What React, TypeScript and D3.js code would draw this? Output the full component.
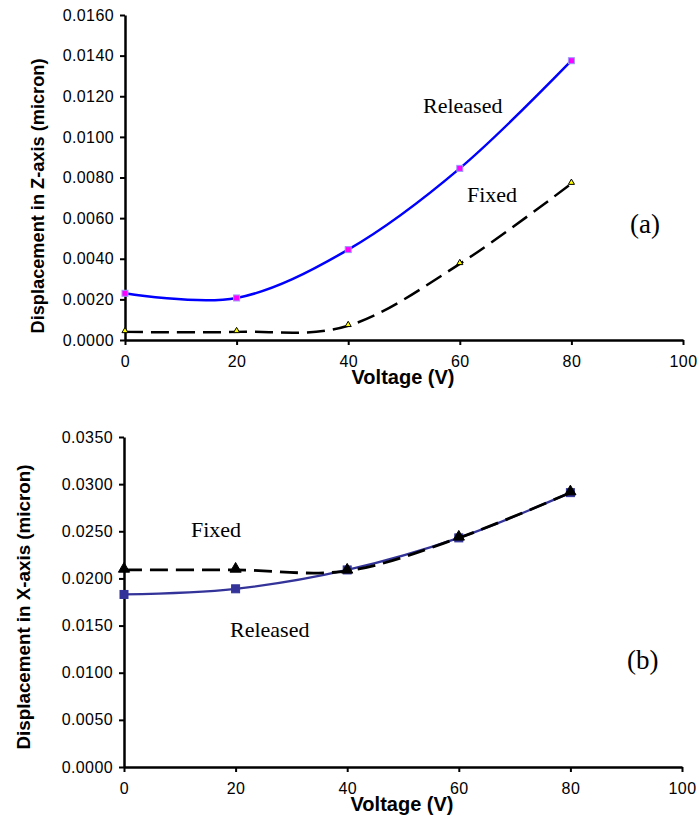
import React, { useEffect, useRef } from 'react'
import * as d3 from 'd3'

// voltage steps shared by both plots
const voltages = [0, 20, 40, 60, 80]
const xTicks = [0, 20, 40, 60, 80, 100]

// (a) displacement in Z
const zReleased = [0.0023, 0.00207, 0.00445, 0.00845, 0.01375]
const zFixed = [0.0004, 0.0004, 0.0007, 0.00375, 0.0077]
const zTicks = [0, 0.002, 0.004, 0.006, 0.008, 0.01, 0.012, 0.014, 0.016]

// (b) displacement in X
const xReleased = [0.0183, 0.0189, 0.0209, 0.0243, 0.0291]
const xFixed = [0.0209, 0.0209, 0.0208, 0.0243, 0.0291]
const xDispTicks = [0, 0.005, 0.01, 0.015, 0.02, 0.025, 0.03, 0.035]

const W = 699
const H = 840

function drawPanel (svg, opts) {
  const x = d3.scaleLinear().domain([0, 100]).range([opts.left, opts.right])
  const y = d3.scaleLinear().domain([0, opts.yMax]).range([opts.bottom, opts.top])
  const g = svg.append('g')

  const xAxis = g.append('g')
    .attr('transform', 'translate(0,' + opts.bottom + ')')
    .call(d3.axisBottom(x).tickValues(xTicks).tickSize(5).tickSizeOuter(0).tickPadding(11))
  const yAxis = g.append('g')
    .attr('transform', 'translate(' + opts.left + ',0)')
    .call(d3.axisLeft(y).tickValues(opts.yTicks).tickSize(5).tickSizeOuter(0).tickPadding(6).tickFormat(d3.format('.4f')))

  ;[xAxis, yAxis].forEach(a => {
    a.select('.domain').attr('stroke', '#000').attr('stroke-width', 2.5)
    a.selectAll('.tick line').attr('stroke', '#000').attr('stroke-width', 2)
    a.selectAll('.tick text')
      .attr('font-family', 'Liberation Sans, Arial, sans-serif')
      .attr('font-size', 16)
      .attr('letter-spacing', 0.4)
      .attr('fill', '#000')
  })

  const line = d3.line()
    .x(d => x(d[0]))
    .y(d => y(d[1]))
    .curve(d3.curveCardinal.tension(0))

  const fixedPts = voltages.map((v, i) => [v, opts.fixed[i]])
  const relPts = voltages.map((v, i) => [v, opts.released[i]])

  const drawSeries = (pts, s) => {
    g.append('path')
      .datum(pts)
      .attr('d', line)
      .attr('fill', 'none')
      .attr('stroke', s.color)
      .attr('stroke-width', s.width)
      .attr('stroke-dasharray', s.dash || null)
    if (s.marker === 'square') {
      g.selectAll(null).data(pts).enter().append('rect')
        .attr('x', d => x(d[0]) - s.size / 2)
        .attr('y', d => y(d[1]) - s.size / 2)
        .attr('width', s.size)
        .attr('height', s.size)
        .attr('fill', s.fill)
        .attr('stroke', s.stroke)
        .attr('stroke-width', 1)
    } else {
      const tri = d3.symbol().type(d3.symbolTriangle).size(s.size * s.size * 0.45)
      g.selectAll(null).data(pts).enter().append('path')
        .attr('d', tri)
        .attr('transform', d => 'translate(' + x(d[0]) + ',' + (y(d[1]) - 1) + ')')
        .attr('fill', s.fill)
        .attr('stroke', s.stroke)
        .attr('stroke-width', 1)
    }
  }

  if (opts.releasedOnTop) {
    drawSeries(fixedPts, opts.fixedStyle)
    drawSeries(relPts, opts.relStyle)
  } else {
    drawSeries(relPts, opts.relStyle)
    drawSeries(fixedPts, opts.fixedStyle)
  }

  // axis titles
  g.append('text')
    .attr('x', (opts.left + opts.right) / 2 - 1)
    .attr('y', opts.bottom + 44)
    .attr('text-anchor', 'middle')
    .attr('font-family', 'Liberation Sans, Arial, sans-serif')
    .attr('font-weight', 'bold')
    .attr('font-size', 20)
    .text('Voltage (V)')
  g.append('text')
    .attr('transform', 'translate(' + opts.yTitleX + ',' + opts.yTitleY + ') rotate(-90)')
    .attr('text-anchor', 'middle')
    .attr('font-family', 'Liberation Sans, Arial, sans-serif')
    .attr('font-weight', 'bold')
    .attr('font-size', opts.yTitleSize)
    .text(opts.yTitle)

  // annotations
  opts.notes.forEach(n => {
    g.append('text')
      .attr('x', n.x)
      .attr('y', n.y)
      .attr('font-family', 'Liberation Serif, Times New Roman, serif')
      .attr('font-size', n.size)
      .text(n.text)
  })
}

function Charts () {
  const ref = useRef(null)

  useEffect(() => {
    const svg = d3.select(ref.current)
    svg.selectAll('*').remove()

    drawPanel(svg, {
      left: 125, right: 683, top: 15, bottom: 340,
      yMax: 0.016, yTicks: zTicks,
      released: zReleased, fixed: zFixed,
      releasedOnTop: true,
      relStyle: { color: '#0000ff', width: 2.5, marker: 'square', size: 6, fill: '#ff00ff', stroke: '#9999ff' },
      fixedStyle: { color: '#000', width: 2.5, dash: '18,8', marker: 'tri', size: 6, fill: '#ffff00', stroke: '#000' },
      yTitle: 'Displacement in Z-axis (micron)', yTitleX: 44, yTitleY: 196, yTitleSize: 18.2,
      notes: [
        { text: 'Released', x: 423, y: 113, size: 22 },
        { text: 'Fixed', x: 467, y: 202, size: 22 },
        { text: '(a)', x: 630, y: 233, size: 27 }
      ]
    })

    drawPanel(svg, {
      left: 124, right: 682, top: 437, bottom: 767,
      yMax: 0.035, yTicks: xDispTicks,
      released: xReleased, fixed: xFixed,
      releasedOnTop: false,
      relStyle: { color: '#333399', width: 2.2, marker: 'square', size: 8, fill: '#333399', stroke: '#333399' },
      fixedStyle: { color: '#000', width: 2.8, dash: '18,8', marker: 'tri', size: 11, fill: '#000', stroke: '#000' },
      yTitle: 'Displacement in X-axis (micron)', yTitleX: 30, yTitleY: 607, yTitleSize: 18.8,
      notes: [
        { text: 'Fixed', x: 191, y: 537, size: 22 },
        { text: 'Released', x: 230, y: 637, size: 22 },
        { text: '(b)', x: 627, y: 669, size: 27 }
      ]
    })
  }, [])

  return <svg ref={ref} width={W} height={H} style={{ display: 'block', background: '#fff' }} />
}

export default function App () {
  return (
    <div style={{ position: 'absolute', left: 0, top: 0 }}>
      <Charts />
    </div>
  )
}
